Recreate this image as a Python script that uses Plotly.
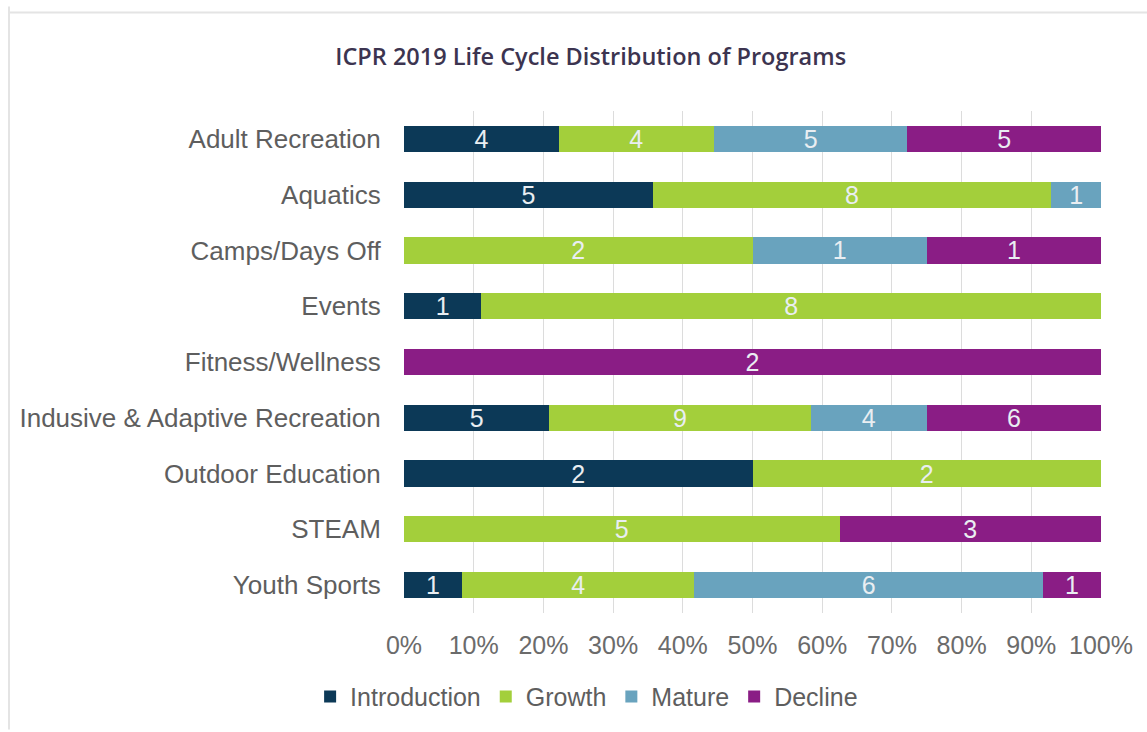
import plotly.graph_objects as go

# Program areas, top to bottom
categories = [
    "Adult Recreation",
    "Aquatics",
    "Camps/Days Off",
    "Events",
    "Fitness/Wellness",
    "Inclusive & Adaptive Recreation",
    "Outdoor Education",
    "STEAM",
    "Youth Sports",
]
tick_text = [
    "Adult Recreation",
    "Aquatics",
    "Camps/Days Off",
    "Events",
    "Fitness/Wellness",
    "Indusive & Adaptive Recreation",
    "Outdoor Education",
    "STEAM",
    "Youth Sports",
]

# Number of programs in each life-cycle stage
introduction = [4, 5, 0, 1, 0, 5, 2, 0, 1]
growth = [4, 8, 2, 8, 0, 9, 2, 5, 4]
mature = [5, 1, 1, 0, 0, 4, 0, 0, 6]
decline = [5, 0, 1, 0, 2, 6, 0, 3, 1]

stages = ["Introduction", "Growth", "Mature", "Decline"]
stage_values = [introduction, growth, mature, decline]
stage_colors = ["#0c3957", "#a3cf3b", "#69a3be", "#8a1d85"]

label_font = "Liberation Sans, Arial, sans-serif"

fig = go.Figure()
for name, vals, color in zip(stages, stage_values, stage_colors):
    fig.add_trace(go.Bar(
        y=categories,
        x=vals,
        name=name,
        orientation="h",
        marker=dict(color=color, line=dict(width=0)),
        text=[str(v) if v else "" for v in vals],
        textposition="inside",
        insidetextanchor="middle",
        textangle=0,
        insidetextfont=dict(family=label_font, size=25, color="#e9eef2"),
        hoverinfo="skip",
    ))

fig.update_layout(
    barmode="stack",
    barnorm="percent",
    bargap=0.53,
    width=1147,
    height=732,
    margin=dict(l=404, r=46, t=111, b=117),
    paper_bgcolor="white",
    plot_bgcolor="white",
    uniformtext=dict(minsize=25, mode="show"),
    title=dict(
        text="ICPR 2019 Life Cycle Distribution of Programs",
        x=0.515,
        xanchor="center",
        y=0.922,
        yanchor="middle",
        font=dict(family="Open Sans, sans-serif", size=23.5, color="#3c3450", weight=600),
    ),
    xaxis=dict(
        range=[0, 100],
        tickvals=[0, 10, 20, 30, 40, 50, 60, 70, 80, 90, 100],
        ticktext=["0%", "10%", "20%", "30%", "40%", "50%", "60%", "70%", "80%", "90%", "100%"],
        showgrid=True,
        gridcolor="#dcdcdc",
        gridwidth=1,
        zeroline=False,
        showline=False,
        ticks="outside",
        ticklen=10,
        tickcolor="white",
        tickfont=dict(family=label_font, size=25, color="#6b6b6b"),
        fixedrange=True,
    ),
    yaxis=dict(
        categoryorder="array",
        categoryarray=categories,
        autorange="reversed",
        tickvals=categories,
        ticktext=tick_text,
        showgrid=False,
        zeroline=False,
        showline=False,
        ticks="outside",
        ticklen=17,
        tickcolor="white",
        tickfont=dict(family=label_font, size=26, color="#5e5e5e"),
        fixedrange=True,
    ),
    legend=dict(
        orientation="h",
        x=0.262,
        xanchor="center",
        y=-0.167,
        yanchor="middle",
        font=dict(family=label_font, size=25, color="#5e5e5e"),
        itemwidth=30,
        traceorder="normal",
    ),
    shapes=[
        # faint frame along top and left edges of the chart area
        dict(type="line", xref="paper", yref="paper",
             x0=-395 / 697, x1=1.07, y0=1 + 99 / 504, y1=1 + 99 / 504,
             line=dict(color="#e4e4e4", width=2)),
        dict(type="line", xref="paper", yref="paper",
             x0=-395 / 697, x1=-395 / 697, y0=-117 / 504, y1=1 + 105 / 504,
             line=dict(color="#e4e4e4", width=2)),
    ],
)

fig.write_html("out.html", config={"displayModeBar": False})
